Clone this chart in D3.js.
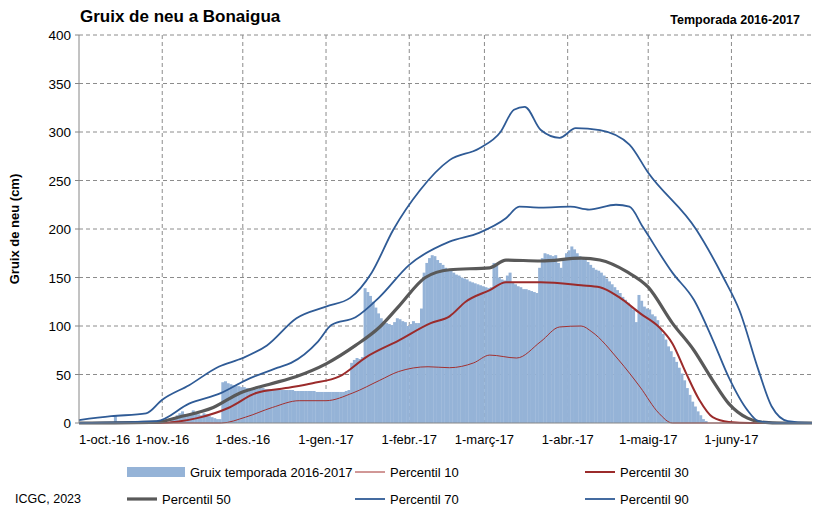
<!DOCTYPE html>
<html><head><meta charset="utf-8">
<script src="https://cdn.jsdelivr.net/npm/d3@7"></script>
<style>body{margin:0;background:#fff}svg{font-family:"Liberation Sans",Arial,sans-serif}</style>
</head><body><svg id="c" width="815" height="525"></svg>
<script>
// Month tick labels (axis starts 1-oct-2016)
const monthLabels = ["1-oct.-16","1-nov.-16","1-des.-16","1-gen.-17","1-febr.-17","1-març-17","1-abr.-17","1-maig-17","1-juny-17"];
const monthDays = [0,31,61,92,123,151,182,212,243];
const yTicks = [0,50,100,150,200,250,300,350,400];
// Daily snow depth 2016-2017 (cm), day 0 = 1-oct-2016
const seasonDepth = [
0,0,0,0,0,0,0,0,0,0,0,0,0,8,0,0,0,0,0,0,0,0,0,0,0,0,0,0,0,0,0,0,0,0,
3,5,8,10,12,9,8,10,13,11,9,8,10,9,7,6,5,4,4,
42,43,41,40,39,38,38,37,37,36,36,35,35,35,36,36,35,35,35,35,
35,35,34,34,34,34,34,33,33,33,33,33,33,33,33,32,32,32,32,32,32,32,32,32,32,32,33,34,
62,65,67,66,68,139,135,131,125,119,113,108,105,103,102,101,104,108,107,105,104,100,102,105,103,103,118,
155,165,170,173,172,168,165,163,160,158,157,155,153,152,150,149,148,146,145,144,143,142,141,140,139,140,
165,163,150,148,147,152,155,145,143,141,140,138,138,137,136,135,134,160,170,175,174,173,172,173,165,160,168,
175,178,182,179,175,172,170,168,166,163,160,158,157,155,152,149,146,143,140,137,134,130,127,124,120,117,104,132,
126,120,118,117,112,110,106,98,92,86,79,74,68,63,57,51,44,36,29,22,17,12,8,4,2,0];
// Percentile curves: [day, cm]
const p10 = [[0,0],[53,0],[62,6],[72,16],[82,23],[92,23],[102,31],[112,44],[119,53],[130,58],[138,57],[147,62],[153,70],[163,67],[172,84],[179,99],[187,100],[191,94],[201,65],[209,37],[216,10],[221,0],[273,0]];
const p30 = [[0,0],[29,0],[44,5],[56,16],[66,31],[77,36],[87,41],[97,48],[107,68],[119,85],[131,103],[138,110],[144,125],[153,137],[159,145],[172,145],[187,142],[194,140],[201,130],[209,113],[216,99],[221,82],[226,52],[231,24],[236,6],[242,1],[250,0],[273,0]];
const p50 = [[0,0],[29,1],[37,6],[50,16],[60,31],[71,40],[81,48],[92,61],[103,80],[112,99],[119,120],[129,150],[138,158],[153,160],[159,168],[172,167],[187,170],[194,168],[204,156],[212,140],[221,103],[229,75],[236,44],[242,20],[249,5],[254,1],[262,0],[273,0]];
const p70 = [[0,0],[29,2],[41,20],[53,31],[62,44],[74,57],[79,62],[89,84],[94,101],[103,109],[112,130],[123,163],[138,187],[149,196],[159,211],[164,223],[172,222],[183,223],[190,220],[200,225],[205,223],[210,202],[221,155],[229,127],[236,86],[242,47],[249,13],[253,2],[260,0],[273,0]];
const p90 = [[0,3],[12,7],[25,10],[31,24],[41,39],[52,58],[61,67],[70,80],[81,108],[92,120],[101,129],[109,155],[117,199],[127,240],[138,271],[149,283],[157,300],[162,323],[166,326],[172,302],[179,294],[185,304],[194,302],[205,287],[212,258],[230,199],[240,150],[246,116],[253,55],[258,17],[264,2],[273,0]];

const svg = d3.select("#c");
const L=79,R=812,T=35,B=423;
const x = d3.scaleLinear().domain([0,273]).range([L,R]);
const y = d3.scaleLinear().domain([0,400]).range([B,T]);

svg.append("g").selectAll("line").data(yTicks.slice(1)).join("line")
 .attr("x1",L).attr("x2",R).attr("y1",d=>y(d)).attr("y2",d=>y(d))
 .attr("stroke","#8c8c8c").attr("stroke-dasharray","4,3");
svg.append("g").selectAll("line").data(monthDays.slice(1)).join("line")
 .attr("x1",d=>x(d)).attr("x2",d=>x(d)).attr("y1",T).attr("y2",B)
 .attr("stroke","#8c8c8c").attr("stroke-dasharray","4,3");

const bw = x(1)-x(0);
svg.append("g").selectAll("rect").data(seasonDepth.map((v,i)=>[i,v]).filter(d=>d[1]>0)).join("rect")
 .attr("x",d=>x(d[0])).attr("width",bw+0.3).attr("y",d=>y(d[1])).attr("height",d=>B-y(d[1]))
 .attr("fill","#95b3d7");

const line = d3.line().x(d=>x(d[0])).y(d=>y(d[1])).curve(d3.curveMonotoneX);
const series = [
 {d:p10,c:"#a3302f",w:1},{d:p30,c:"#9b2b2b",w:2},{d:p50,c:"#595959",w:3.2},
 {d:p70,c:"#2f5b96",w:1.8},{d:p90,c:"#2f5b96",w:1.8}];
series.forEach(s=>svg.append("path").attr("d",line(s.d)).attr("fill","none").attr("stroke",s.c).attr("stroke-width",s.w));

svg.append("line").attr("x1",L).attr("x2",L).attr("y1",T).attr("y2",B).attr("stroke","#868686");
svg.append("line").attr("x1",L).attr("x2",R).attr("y1",B).attr("y2",B).attr("stroke","#868686");
svg.append("g").selectAll("line").data(yTicks).join("line").attr("x1",L-4).attr("x2",L).attr("y1",d=>y(d)).attr("y2",d=>y(d)).attr("stroke","#868686");
svg.append("g").selectAll("text").data(yTicks).join("text")
 .attr("x",L-8).attr("y",d=>y(d)+5).attr("text-anchor","end").attr("font-size",13.5).text(d=>d);
svg.append("g").selectAll("text").data(monthLabels).join("text")
 .attr("x",(d,i)=>i===0?L:x(monthDays[i])).attr("y",444)
 .attr("text-anchor",(d,i)=>i===0?"start":"middle").attr("font-size",13).text(d=>d);

svg.append("text").attr("x",80).attr("y",22).attr("font-size",17).attr("font-weight","bold").text("Gruix de neu a Bonaigua");
svg.append("text").attr("x",800).attr("y",24).attr("text-anchor","end").attr("font-size",12.5).attr("font-weight","bold").text("Temporada 2016-2017");
svg.append("text").attr("transform","translate(19,229) rotate(-90)").attr("text-anchor","middle").attr("font-size",13).attr("font-weight","bold").text("Gruix de neu (cm)");
svg.append("text").attr("x",15).attr("y",503).attr("font-size",12.5).text("ICGC, 2023");

const leg = [
 {t:"Gruix temporada 2016-2017",bar:true,x:127,y:472},
 {t:"Percentil 10",c:"#a3302f",w:1,x:355,y:472},
 {t:"Percentil 30",c:"#9b2b2b",w:2,x:585,y:472},
 {t:"Percentil 50",c:"#595959",w:3.2,x:127,y:499},
 {t:"Percentil 70",c:"#2f5b96",w:1.8,x:355,y:499},
 {t:"Percentil 90",c:"#2f5b96",w:1.8,x:585,y:499}];
leg.forEach(l=>{
 if(l.bar) svg.append("rect").attr("x",l.x).attr("y",l.y-5).attr("width",58).attr("height",10).attr("fill","#95b3d7");
 else svg.append("line").attr("x1",l.x).attr("x2",l.x+30).attr("y1",l.y).attr("y2",l.y).attr("stroke",l.c).attr("stroke-width",l.w);
 svg.append("text").attr("x",l.bar?l.x+63:l.x+35).attr("y",l.y+5).attr("font-size",13).text(l.t);
});
</script></body></html>
